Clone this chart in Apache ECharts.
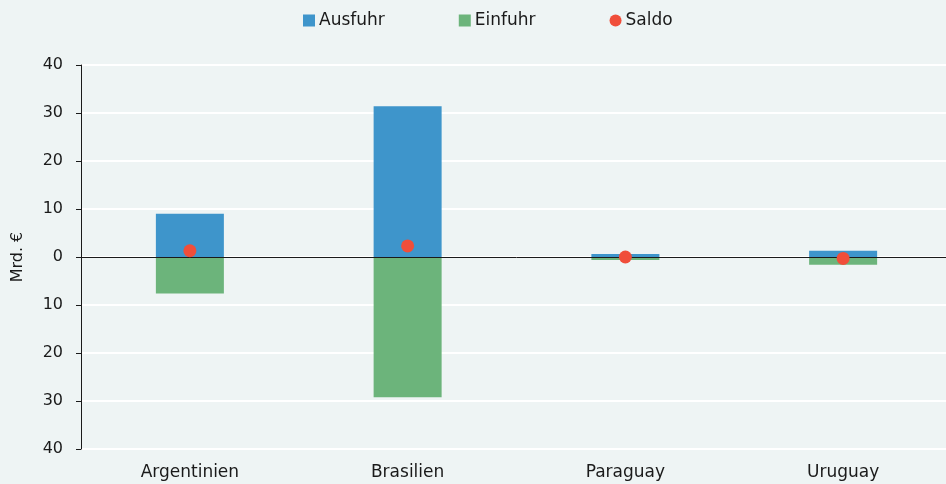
<!DOCTYPE html>
<html><head><meta charset="utf-8">
<script src="https://cdn.jsdelivr.net/npm/echarts@6/dist/echarts.min.js"></script>
<style>html,body{margin:0;padding:0;background:#eef4f4;overflow:hidden;}#c{width:952px;height:484px;}</style>
</head><body><div id="c"></div>
<script>
const categories = ['Argentinien', 'Brasilien', 'Paraguay', 'Uruguay'];
const ausfuhr = [9.0, 31.4, 0.6, 1.3];
const einfuhr = [-7.6, -29.2, -0.6, -1.6];
const saldo = [1.3, 2.3, 0.0, -0.3];
const yTicks = [-40, -30, -20, -10, 0, 10, 20, 30, 40];

const FONT = '"DejaVu Sans", sans-serif';
const chart = echarts.init(document.getElementById('c'));
chart.setOption({
  backgroundColor: '#eef4f4',
  animation: false,
  textStyle: { fontFamily: FONT, color: '#1a1a1a' },
  legend: {
    top: 7, left: 298, itemGap: 74, itemWidth: 12, itemHeight: 12,
    textStyle: { fontSize: 17, color: '#1a1a1a', fontFamily: FONT, padding: [0, 0, 0, -1] },
    data: [{ name: 'Ausfuhr', icon: 'rect' }, { name: 'Einfuhr', icon: 'rect' }, { name: 'Saldo', icon: 'circle' }]
  },
  grid: { left: 81, right: 0, top: 65, bottom: 35 },
  xAxis: {
    type: 'category', data: categories,
    axisLine: { show: false }, axisTick: { show: false },
    axisLabel: { fontSize: 17, color: '#1a1a1a', margin: 15, fontFamily: FONT }
  },
  yAxis: {
    type: 'value', min: yTicks[0], max: yTicks[yTicks.length - 1], interval: 10,
    name: 'Mrd. €', nameLocation: 'middle', nameGap: 55, nameRotate: 90,
    nameTextStyle: { fontSize: 16, color: '#1a1a1a', fontFamily: FONT },
    axisLine: { show: true, lineStyle: { color: '#1a1a1a', width: 1 } },
    axisTick: { show: true, length: 5, lineStyle: { color: '#1a1a1a' } },
    axisLabel: { fontSize: 16, color: '#1a1a1a', margin: 18, fontFamily: FONT, formatter: v => String(Math.abs(v)) },
    splitLine: { show: true, lineStyle: { color: '#ffffff', width: 2 } }
  },
  series: [
    { name: 'Ausfuhr', type: 'bar', stack: 'a', data: ausfuhr, barWidth: 68, itemStyle: { color: '#3e95cb' } },
    { name: 'Einfuhr', type: 'bar', stack: 'a', data: einfuhr, barWidth: 68, itemStyle: { color: '#6cb47b' } },
    { name: 'Saldo', type: 'scatter', data: saldo, symbol: 'circle', symbolSize: 13, z: 5,
      itemStyle: { color: '#f04e3a', opacity: 1 },
      markLine: { silent: true, symbol: 'none', label: { show: false }, z: 3,
        lineStyle: { color: '#1a1a1a', width: 1, type: 'solid' }, data: [{ yAxis: 0 }] } }
  ]
});
</script></body></html>
